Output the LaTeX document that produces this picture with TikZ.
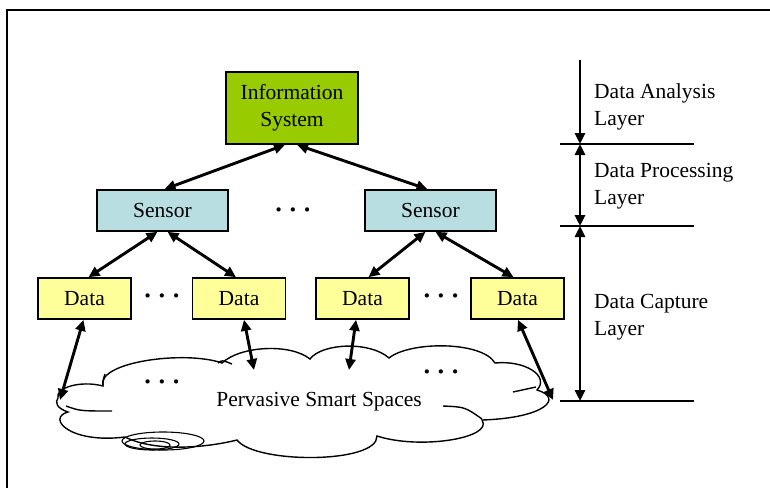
\documentclass[tikz,border=0pt]{standalone}
\usepackage{fontspec}
\setmainfont{Liberation Serif}
\usetikzlibrary{arrows.meta}
\definecolor{infogreen}{HTML}{99CC00}
\definecolor{sensorblue}{HTML}{B8DEE2}
\definecolor{datayellow}{HTML}{FFFF99}
\tikzset{
  box/.style={draw=black, line width=1.6pt, inner sep=0pt, align=center,
    font=\fontsize{21.5}{27}\selectfont},
  infobox/.style={box, fill=infogreen, minimum width=132pt, minimum height=72pt},
  sensorbox/.style={box, fill=sensorblue, minimum width=131pt, minimum height=41pt},
  databox/.style={box, fill=datayellow, minimum width=93pt, minimum height=41pt},
  bi/.style={line width=2.9pt, {Triangle[length=11pt,width=10pt]}-{Triangle[length=11pt,width=10pt]}},
  uni/.style={line width=2.9pt, -{Triangle[length=11pt,width=10pt]}},
  bar/.style={line width=1.8pt},
  lbl/.style={anchor=west, align=left, inner sep=0pt, font=\fontsize{21.5}{27}\selectfont},
  dots/.style={inner sep=0pt, font=\fontsize{26}{27}\selectfont\bfseries},
  cloudline/.style={line width=1.4pt},
}
\newcommand{\mydots}{·\hspace{5.5pt}·\hspace{5.5pt}·}
\begin{document}
\begin{tikzpicture}[x=1pt, y=-1pt]
\useasboundingbox (0,0) rectangle (770,487);
% frame
\draw[line width=1.6pt] (7,490) -- (7,10) -- (772,10);

% cloud
\draw[cloudline, fill=white]
  (58,398) .. controls (55,388) and (80,380) .. (103,386)
  .. controls (96,362) and (185,350) .. (222,363)
  .. controls (240,346) and (290,343) .. (310,359)
  .. controls (322,343) and (370,341) .. (389,358)
  .. controls (410,341) and (482,341) .. (495,363)
  .. controls (525,360) and (550,376) .. (537,390)
  .. controls (564,398) and (545,418) .. (482,420)
  .. controls (494,438) and (420,450) .. (377,436)
  .. controls (378,464) and (255,464) .. (237,440)
  .. controls (205,448) and (155,452) .. (125,437)
  .. controls (70,444) and (46,418) .. (68,412)
  .. controls (56,408) and (55,402) .. (58,398) -- cycle;
\draw[cloudline] (66,406) .. controls (80,411) .. (112,411);
\draw[cloudline] (513,392) .. controls (524,390) .. (536,387);
\draw[cloudline] (443,406) .. controls (465,407) .. (482,419);
\draw[cloudline] (218,363) .. controls (222,360) .. (232,364);
\draw[cloudline] (103,386) .. controls (103,380) .. (105,374);
% swirl
\draw[line width=1.1pt] (163,441) ellipse [x radius=41pt, y radius=9pt];
\draw[line width=1.1pt] (152,444) ellipse [x radius=27pt, y radius=6pt];
\draw[line width=1.1pt] (155,445) ellipse [x radius=15pt, y radius=4pt];

\node[inner sep=0pt, font=\fontsize{21.5}{27}\selectfont] (pss) at (319,402) {Pervasive Smart Spaces};
\node[dots] (cd1) at (162,385) {\mydots};
\node[dots] (cd2) at (441,375) {\mydots};

% nodes
\node[infobox] (info) at (292,108) {Information\\System};
\node[sensorbox] (sl) at (162.5,210.5) {Sensor};
\node[sensorbox] (sr) at (430.5,210.5) {Sensor};
\node[dots] (sd) at (293,213) {\mydots};
\node[databox] (d1) at (84.5,298.5) {Data};
\node[databox] (d2) at (239,298.5) {Data};
\node[databox] (d3) at (362.5,298.5) {Data};
\node[databox] (d4) at (517.5,298.5) {Data};
\node[dots] (dd1) at (162,299) {\mydots};
\node[dots] (dd2) at (441,299) {\mydots};

% connectors
\draw[bi] ([xshift=-7pt]info.south) -- ([xshift=2pt]sl.north);
\draw[bi] ([xshift=5pt]info.south) -- ([xshift=-3pt]sr.north);
\draw[bi] ([xshift=-5pt]sl.south) -- ([xshift=4pt]d1.north);
\draw[bi] ([xshift=5pt]sl.south) -- ([xshift=-3pt]d2.north);
\draw[bi] ([xshift=-5pt]sr.south) -- ([xshift=6pt]d3.north);
\draw[bi] ([xshift=5pt]sr.south) -- ([xshift=-4pt]d4.north);

\coordinate (c1) at (60,400);
\coordinate (c2) at (254,370);
\coordinate (c3) at (349,370);
\coordinate (c4) at (553,400);
\draw[bi] ([xshift=-1pt]d1.south) -- (c1);
\draw[bi] ([xshift=5pt]d2.south) -- (c2);
\draw[bi] ([xshift=-6.5pt]d3.south) -- (c3);
\draw[bi] ([xshift=0.5pt]d4.south) -- (c4);

% layer scale
\coordinate (t0) at (580,60);
\coordinate (t1) at (580,144);
\coordinate (t2) at (580,226);
\coordinate (t3) at (580,401);
\draw[bar] (560,144) -- (694,144);
\draw[bar] (560,226) -- (694,226);
\draw[bar] (560,401) -- (694,401);
\draw[uni] (t0) -- (t1);
\draw[bi] (t1) -- (t2);
\draw[bi] (t2) -- (t3);
\node[lbl] (la) at (594,106.5) {Data Analysis\\Layer};
\node[lbl] (lp) at (594,186) {Data Processing\\Layer};
\node[lbl] (lc) at (594,317.5) {Data Capture\\Layer};
\end{tikzpicture}
\end{document}
